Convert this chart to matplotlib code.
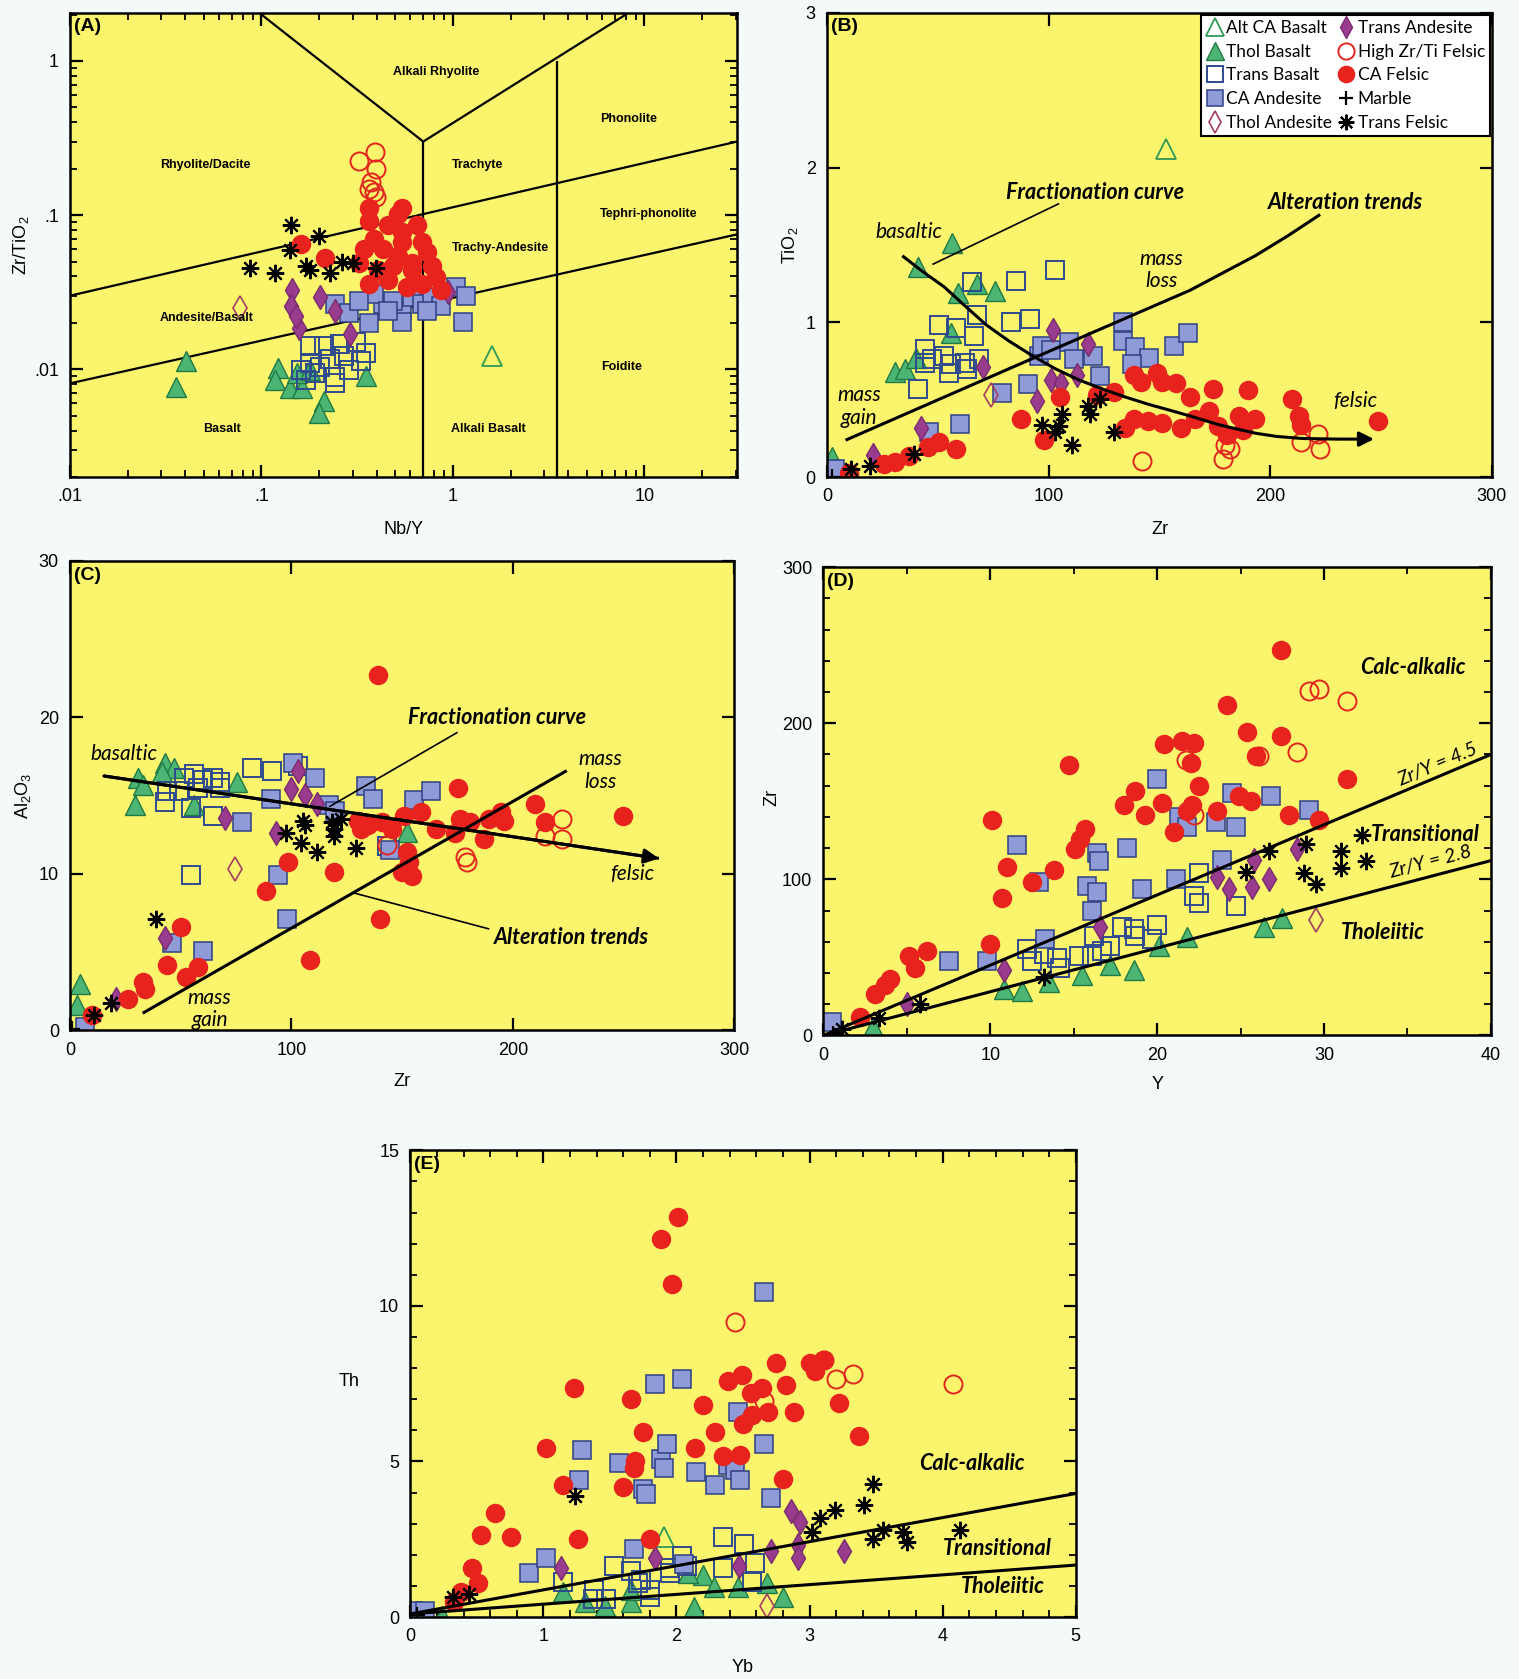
import math
import matplotlib.pyplot as plt
from matplotlib.lines import Line2D
from matplotlib.ticker import MultipleLocator, LogLocator, NullFormatter, FixedLocator

plt.rcParams['font.family'] = ['Liberation Sans', 'DejaVu Sans']
plt.rcParams['mathtext.fontset'] = 'custom'
plt.rcParams['mathtext.rm'] = 'Liberation Sans'
plt.rcParams['mathtext.default'] = 'rm'

YELLOW = '#fbf46d'
BG = '#f4fafa'
ANNOT_FONT = ['Lato', 'Open Sans', 'DejaVu Sans']

# ---------------- panel A : Zr/TiO2 vs Nb/Y (log-log) ----------------
A_ALT_CA_BASALT = [(1.60, 0.0122)]
A_THOL_BASALT = [(0.0403, 0.0113), (0.0357, 0.0077), (0.122, 0.0102), (0.118, 0.0085), (0.141, 0.0076),
                 (0.162, 0.0076), (0.212, 0.0062), (0.199, 0.0052), (0.350, 0.0090), (0.153, 0.0094),
                 (0.180, 0.0099)]
A_TRANS_BASALT = [(0.180, 0.0142), (0.212, 0.0142), (0.256, 0.0146), (0.313, 0.0150), (0.352, 0.0128),
                  (0.332, 0.0113), (0.271, 0.0122), (0.227, 0.0116), (0.180, 0.0110), (0.160, 0.0099),
                  (0.191, 0.0094), (0.241, 0.0089), (0.287, 0.0099), (0.170, 0.0085), (0.241, 0.0081),
                  (0.202, 0.0104)]
A_CA_ANDESITE = [(0.241, 0.0264), (0.287, 0.0232), (0.363, 0.0199), (0.432, 0.0264), (0.545, 0.0238),
                 (0.545, 0.0204), (0.613, 0.0293), (0.689, 0.0264), (0.774, 0.0293), (0.869, 0.0257),
                 (1.036, 0.0342), (1.164, 0.0300), (1.130, 0.0204), (0.385, 0.0308), (0.485, 0.0278),
                 (0.323, 0.0278), (0.46, 0.0238), (0.73, 0.0238)]
A_THOL_ANDESITE = [(0.0775, 0.0251)]
A_TRANS_ANDESITE = [(0.144, 0.0325), (0.143, 0.0257), (0.158, 0.0184), (0.202, 0.0293), (0.241, 0.0238),
                    (0.291, 0.0170), (0.948, 0.0316), (0.151, 0.0220)]
A_HIGH_ZR_TI = [(0.323, 0.225), (0.391, 0.256), (0.396, 0.198), (0.373, 0.165), (0.385, 0.141),
                (0.396, 0.131), (0.363, 0.147)]
A_CA_FELSIC = [(0.363, 0.112), (0.545, 0.112), (0.363, 0.091), (0.458, 0.0865), (0.385, 0.0704),
               (0.545, 0.078), (0.650, 0.0865), (0.342, 0.0603), (0.432, 0.0603), (0.545, 0.0668),
               (0.689, 0.0668), (0.323, 0.049), (0.408, 0.0442), (0.485, 0.0466), (0.613, 0.049),
               (0.774, 0.0466), (0.820, 0.0399), (0.689, 0.036), (0.578, 0.0342), (0.363, 0.036),
               (0.458, 0.0379), (0.869, 0.0325), (0.613, 0.0442), (0.160, 0.0651), (0.215, 0.053),
               (0.514, 0.0544), (0.730, 0.0573), (0.514, 0.101)]
A_TRANS_FELSIC = [(0.143, 0.0857), (0.200, 0.073), (0.141, 0.0597), (0.0869, 0.0454), (0.118, 0.0424),
                  (0.170, 0.0466), (0.180, 0.0442), (0.227, 0.042), (0.263, 0.0495), (0.301, 0.0486),
                  (0.398, 0.0454)]

A_LINE_UPPER = [(0.01, 0.030), (30.5, 0.30)]
A_LINE_LOWER = [(0.01, 0.0081), (30.5, 0.075)]
A_LINE_V = [(0.1, 2.0), (0.70, 0.30), (8.0, 2.0)]
A_LINE_VERT1 = [(0.70, 0.30), (0.70, 0.002)]
A_LINE_VERT2 = [(3.5, 1.0), (3.5, 0.002)]
A_FIELDS = ['Alkali Rhyolite', 'Phonolite', 'Rhyolite/Dacite', 'Trachyte', 'Tephri-phonolite',
            'Trachy-Andesite', 'Andesite/Basalt', 'Foidite', 'Basalt', 'Alkali Basalt']
A_FIELD_X = [0.82, 8.3, 0.051, 1.35, 10.5, 1.77, 0.052, 7.65, 0.062, 1.54]
A_FIELD_Y = [0.85, 0.42, 0.21, 0.21, 0.102, 0.0615, 0.0215, 0.0103, 0.0041, 0.0041]

# ---------------- panel B : TiO2 vs Zr ----------------
B_ALT_CA_BASALT = [(153, 2.12)]
B_THOL_BASALT = [(56.6, 1.51), (41.3, 1.36), (59.1, 1.19), (67.5, 1.25), (75.8, 1.20), (30.8, 0.68),
                 (35, 0.70), (40.2, 0.77), (56, 0.93), (2.5, 0.13)]
B_TRANS_BASALT = [(103, 1.34), (85.3, 1.27), (65.4, 1.26), (67.5, 1.05), (91.6, 1.02), (83.2, 1.0),
                  (50.7, 0.98), (58, 0.96), (66.5, 0.91), (44.4, 0.83), (52.8, 0.78), (47.6, 0.76),
                  (56, 0.73), (62.3, 0.74), (68.6, 0.76), (41.3, 0.57), (54.9, 0.67), (63.3, 0.70),
                  (44.4, 0.74)]
B_CA_ANDESITE = [(90.6, 0.60), (79, 0.54), (60.2, 0.34), (95.8, 0.78), (96.9, 0.85), (101, 0.82),
                 (109.4, 0.87), (120, 0.78), (123.4, 0.65), (133.5, 1.0), (133.5, 0.88), (139, 0.84),
                 (145.4, 0.77), (137.6, 0.73), (156.5, 0.85), (162.8, 0.93), (3.6, 0.05), (46, 0.29),
                 (111.5, 0.76)]
B_THOL_ANDESITE = [(74.2, 0.53)]
B_TRANS_ANDESITE = [(102, 0.95), (117.8, 0.86), (70.6, 0.71), (101, 0.63), (112.6, 0.66), (105.8, 0.61),
                    (94.7, 0.49), (42.3, 0.32), (21, 0.14)]
B_HIGH_ZR_TI = [(142.3, 0.105), (178.5, 0.116), (181.7, 0.18), (179.6, 0.205), (214, 0.227),
                (221.5, 0.28), (222.6, 0.18)]
B_CA_FELSIC = [(9.8, 0.027), (25.6, 0.082), (30.8, 0.094), (37.1, 0.138), (45.5, 0.194), (50.7, 0.227),
               (58, 0.183), (87.4, 0.372), (97.8, 0.238), (105.2, 0.517), (122, 0.528), (129.3, 0.55),
               (138.6, 0.661), (141.7, 0.617), (149, 0.673), (151, 0.617), (157.5, 0.606), (163.8, 0.517),
               (174.3, 0.572), (190, 0.561), (210, 0.506), (138.6, 0.372), (145, 0.361), (151, 0.35),
               (159.6, 0.316), (165.9, 0.372), (176.5, 0.327), (185.8, 0.394), (193.3, 0.372),
               (214, 0.339), (248.7, 0.361), (172.2, 0.428), (180.6, 0.272), (187.9, 0.305),
               (213, 0.394), (134.5, 0.316)]
B_MARBLE = [(2.5, 0.0)]
B_TRANS_FELSIC = [(10.9, 0.049), (19.3, 0.071), (39.2, 0.149), (96.8, 0.339), (106.2, 0.405),
                  (103, 0.294), (110.4, 0.205), (117.8, 0.461), (118.8, 0.405), (123, 0.506),
                  (129.3, 0.294), (104.6, 0.327)]

B_FRAC_CURVE = [(34, 1.43), (43, 1.33), (52.8, 1.23), (62, 1.11), (71.7, 0.985), (82, 0.88), (92.7, 0.784),
                (103, 0.70), (113.6, 0.628), (124, 0.57), (134.6, 0.517), (145, 0.47), (155.6, 0.428),
                (166, 0.385), (176.5, 0.339), (185, 0.31), (193.3, 0.283), (203, 0.262), (214.3, 0.249),
                (230, 0.245), (246.8, 0.245)]
B_ALT_TREND = [(8.4, 0.238), (88.4, 0.739), (163.8, 1.207), (180, 1.33), (193.2, 1.43), (208, 1.56),
               (222.5, 1.697)]
B_FRAC_LEADER = [(47.6, 1.374), (104.8, 1.768)]

# ---------------- panel C : Al2O3 vs Zr ----------------
C_THOL_BASALT = [(4.4, 2.97), (3.3, 1.65), (30.6, 16.15), (32.8, 15.7), (29.5, 14.4), (42.7, 17.1),
                 (47, 16.8), (55.8, 14.4), (75.5, 15.9), (41.6, 16.5), (152, 12.7)]
C_TRANS_BASALT = [(43.8, 15.3), (51.4, 16.15), (55.8, 16.4), (60.2, 16.0), (64.6, 16.15), (67.8, 15.5),
                  (42.7, 14.6), (54.7, 14.2), (64.6, 13.7), (82, 16.8), (91, 16.6), (103, 16.9),
                  (67.8, 15.9), (54.7, 9.9), (143.3, 11.76), (49.2, 15.3), (58, 15.5)]
C_CA_ANDESITE = [(90.8, 14.8), (100.7, 17.1), (110.5, 16.15), (117, 14.4), (119.5, 14.0), (133.5, 15.6),
                 (136.8, 14.8), (155.4, 14.7), (163, 15.3), (77.7, 13.3), (94, 9.9), (97.8, 7.14),
                 (144.4, 11.5), (46, 5.6), (60.2, 5.05), (6.6, 0.22)]
C_THOL_ANDESITE = [(74.4, 10.33)]
C_TRANS_ANDESITE = [(70, 13.6), (93, 12.6), (103, 16.6), (99.6, 15.4), (106, 15.05), (111.6, 14.5),
                    (42.7, 5.93), (20.8, 1.98)]
C_HIGH_ZR_TI = [(222, 13.5), (222, 12.2), (214.4, 12.4), (178.3, 11.1), (179.4, 10.77), (143.3, 11.87)]
C_CA_FELSIC = [(139, 22.7), (175, 15.5), (98.5, 10.77), (119.3, 10.1), (88.6, 8.9), (140, 7.14),
               (108.3, 4.5), (50.3, 6.6), (43.8, 4.18), (52.5, 3.4), (58, 4.07), (32.8, 3.08),
               (33.9, 2.64), (26.3, 1.98), (9.8, 0.99), (130, 13.4), (131.3, 12.86), (141, 13.3),
               (145.5, 12.86), (151, 13.7), (158.6, 13.96), (165.2, 12.86), (153, 10.77), (152, 11.43),
               (154.2, 9.89), (150, 10.1), (174, 12.64), (180.5, 13.3), (187, 12.2), (189.3, 13.5),
               (194.7, 13.96), (195.8, 13.4), (210, 14.5), (214.4, 13.3), (249.5, 13.7), (134.6, 13.1),
               (176.2, 13.5)]
C_MARBLE = [(1.1, 0.1)]
C_TRANS_FELSIC = [(38.7, 7.14), (18.6, 1.76), (10.9, 0.99), (97.4, 12.64), (105, 13.4), (106, 13.1),
                  (104.4, 12.0), (111.6, 11.43), (118.2, 13.3), (119.3, 12.86), (122.5, 13.5),
                  (129, 11.65), (119.3, 12.4)]

C_FRAC_ARROW = [(15.3, 16.26), (265.9, 10.99)]
C_ALT_TREND = [(32.8, 1.1), (224.3, 16.6)]
C_FRAC_LEADER = [(117, 14.29), (175, 19.05)]
C_ALT_LEADER = [(128, 8.79), (189.3, 6.48)]

# ---------------- panel D : Zr vs Y ----------------
D_THOL_BASALT = [(2.95, 5.5), (10.8, 29.8), (11.9, 28.7), (13.5, 34.2), (15.5, 38.6), (17.2, 45.3),
                 (18.6, 41.9), (20.1, 57.4), (21.8, 62.9), (26.4, 69.5), (27.5, 75.1)]
D_TRANS_BASALT = [(12.2, 55.2), (12.5, 47.5), (13.2, 51.9), (14, 49.7), (14.2, 43), (15.3, 50.8),
                  (16.1, 50.8), (16.2, 64), (17.2, 57.4), (17.9, 69.5), (18.7, 64), (18.6, 68.4),
                  (20, 70.6), (19.7, 61.8), (22.2, 89.4), (22.5, 85), (22.5, 103.8), (24.7, 82.8),
                  (16.7, 54.1)]
D_CA_ANDESITE = [(0.5, 8.8), (7.5, 47.5), (9.8, 47.5), (11.6, 121.9), (12.9, 98.2), (13.3, 61.8),
                 (15.8, 96), (16.4, 91.6), (16.1, 79.5), (16.4, 117), (16.5, 111.5), (18.2, 120.3),
                 (19.1, 93.8), (20, 164.5), (21.3, 140.2), (21.8, 133.6), (21.1, 100.4), (23.5, 136.9),
                 (23.9, 112.6), (24.5, 155.6), (24.7, 133.6), (26.8, 153.4), (29.1, 144.6)]
D_THOL_ANDESITE = [(29.5, 74)]
D_TRANS_ANDESITE = [(5, 19.9), (10.8, 41.9), (16.6, 69.5), (23.6, 101.5), (24.3, 93.8), (25.7, 94.9),
                    (25.8, 112.6), (26.7, 100.4), (28.4, 119.2)]
D_HIGH_ZR_TI = [(29.1, 220.8), (29.7, 221.9), (31.4, 214.1), (28.4, 181.5), (26.1, 178.8),
                (21.7, 176.6), (22.2, 141.3)]
D_CA_FELSIC = [(2.2, 12.1), (3.1, 26.5), (3.7, 32), (4, 36.4), (5.1, 50.8), (5.5, 43), (6.2, 54.1),
               (10, 58.5), (10.7, 88.3), (11, 108.2), (10.1, 138), (12.5, 98.2), (13.8, 106),
               (14.7, 173.3), (15.1, 119.2), (15.4, 125.8), (15.7, 132.5), (18, 147.9), (18.7, 156.7),
               (19.3, 141.3), (20.3, 149), (20.4, 186.5), (21, 130.3), (21.5, 188.7), (22.2, 187.6),
               (22, 174.4), (22.5, 160), (21.8, 143.5), (22.1, 147.9), (23.6, 143.5), (24.2, 211.9),
               (24.9, 153.4), (25.4, 194.3), (25.6, 150.1), (25.9, 178.8), (27.4, 192), (27.4, 247.2),
               (27.9, 141.3), (29.7, 138), (31.4, 164.5)]
D_MARBLE = [(0.6, 1.0)]
D_TRANS_FELSIC = [(1.1, 4.4), (3.3, 11), (5.8, 19.9), (13.2, 37.5), (25.3, 104.9), (26.7, 118.1),
                  (28.9, 122.5), (28.8, 103.8), (29.5, 97.1), (31, 118.1), (31, 107.1), (32.5, 111.5),
                  (32.3, 128.5)]
D_RATIOS = [4.5, 2.8]

# ---------------- panel E : Th vs Yb ----------------
E_ALT_CA_BASALT = [(1.91, 2.57)]
E_THOL_BASALT = [(0.24, 0.03), (1.15, 0.81), (1.31, 0.47), (1.46, 0.36), (1.66, 0.47), (1.66, 0.86),
                 (2.13, 0.31), (2.2, 1.36), (2.28, 0.97), (2.46, 0.97), (2.68, 1.08), (2.8, 0.64),
                 (2.09, 1.41)]
E_TRANS_BASALT = [(1.15, 1.14), (1.38, 0.86), (1.47, 0.58), (1.53, 1.63), (1.66, 1.47), (1.71, 1.08),
                  (1.8, 0.86), (1.8, 0.64), (1.95, 1.41), (2.04, 1.96), (2.08, 1.63), (1.95, 1.58),
                  (2.35, 2.57), (2.51, 2.35), (2.35, 1.58), (2.59, 1.74), (2.57, 1.14), (1.73, 1.19),
                  (1.37, 0.58)]
E_CA_ANDESITE = [(0.02, 0.2), (0.11, 0.18), (0.89, 1.43), (1.02, 1.91), (1.29, 5.38), (1.27, 4.39),
                 (1.75, 4.12), (1.77, 3.95), (1.68, 2.19), (1.57, 4.94), (1.84, 7.48), (1.88, 5.09),
                 (1.93, 5.55), (1.91, 4.78), (2.04, 7.65), (2.06, 1.69), (2.15, 4.67), (2.29, 4.23),
                 (2.39, 4.89), (2.44, 4.72), (2.48, 4.39), (2.46, 6.6), (2.66, 10.46), (2.66, 5.55),
                 (2.71, 3.84)]
E_THOL_ANDESITE = [(2.68, 0.36)]
E_TRANS_ANDESITE = [(1.13, 1.58), (1.84, 1.91), (2.47, 1.63), (2.71, 2.13), (2.86, 3.4), (2.93, 3.07),
                    (2.91, 2.3), (2.91, 1.91), (3.26, 2.13)]
E_HIGH_ZR_TI = [(2.44, 9.49), (3.2, 7.65), (3.33, 7.81), (4.08, 7.48), (2.66, 6.93), (3.11, 8.26)]
E_CA_FELSIC = [(0.33, 0.47), (0.38, 0.81), (0.51, 1.08), (0.46, 1.58), (0.53, 2.63), (0.64, 3.34),
               (0.76, 2.57), (1.02, 5.42), (1.15, 4.23), (1.23, 7.37), (1.26, 2.52), (1.6, 4.17),
               (1.66, 7.02), (1.68, 4.78), (1.69, 5.0), (1.75, 5.94), (1.8, 2.52), (1.88, 12.14),
               (1.97, 10.71), (2.01, 12.87), (2.14, 5.44), (2.2, 6.82), (2.29, 5.94), (2.35, 5.17),
               (2.39, 7.59), (2.48, 5.22), (2.49, 7.79), (2.5, 6.21), (2.56, 7.21), (2.57, 6.49),
               (2.64, 7.37), (2.69, 6.6), (2.75, 8.15), (2.8, 4.45), (2.82, 7.46), (2.88, 6.6),
               (3.0, 8.15), (3.04, 7.92), (3.1, 8.26), (3.22, 6.88), (3.37, 5.81)]
E_MARBLE = [(0.05, 0.05)]
E_TRANS_FELSIC = [(0.32, 0.66), (0.44, 0.75), (1.24, 3.9), (3.02, 2.74), (3.08, 3.18), (3.19, 3.45),
                  (3.41, 3.6), (3.48, 4.28), (3.48, 2.52), (3.55, 2.79), (3.7, 2.74), (3.73, 2.41),
                  (4.13, 2.79)]
E_LINE_UPPER = [(0, 0.1), (5, 3.97)]
E_LINE_LOWER = [(0, 0.1), (5, 1.67)]

# ---------------- styles ----------------
STYLE = {
    'Alt CA Basalt': dict(marker='^', mfc='none', mec='#2e9a55', ms=14, mew=1.3),
    'Thol Basalt': dict(marker='^', mfc='#4db574', mec='#1f7a45', ms=14, mew=1.0),
    'Trans Basalt': dict(marker='s', mfc='none', mec='#2f4b8f', ms=12.5, mew=1.4),
    'CA Andesite': dict(marker='s', mfc='#8e9bd6', mec='#2e3f86', ms=12.5, mew=1.1),
    'Thol Andesite': dict(marker='d', mfc='none', mec='#a53e62', ms=12, mew=1.2),
    'Trans Andesite': dict(marker='d', mfc='#9a3c8d', mec='#7a2b70', ms=12, mew=1.0),
    'High Zr/Ti Felsic': dict(marker='o', mfc='none', mec='#e2251f', ms=13, mew=1.4),
    'CA Felsic': dict(marker='o', mfc='#e8231e', mec='#e8231e', ms=13, mew=1.0),
    'Marble': dict(marker='+', color='k', ms=11, mew=1.6),
    'Trans Felsic': dict(marker=(8, 2, 0), color='k', ms=12.5, mew=1.5),
}
LEGEND_ORDER = ['Alt CA Basalt', 'Thol Basalt', 'Trans Basalt', 'CA Andesite', 'Thol Andesite',
                'Trans Andesite', 'High Zr/Ti Felsic', 'CA Felsic', 'Marble', 'Trans Felsic']

BIG = 15.5    # bold italic captions
SMALL = 15    # italic captions


def draw_points(ax, groups):
    for name, pts in groups:
        xs = [p[0] for p in pts]
        ys = [p[1] for p in pts]
        ax.plot(xs, ys, ls='none', **STYLE[name])


def draw_line(ax, pts, lw=2.2):
    ax.plot([p[0] for p in pts], [p[1] for p in pts], color='k', lw=lw, solid_capstyle='butt')


def arrow_end(ax, pts, lw=2.2):
    ax.annotate('', xy=pts[-1], xytext=pts[-2],
                arrowprops=dict(arrowstyle='-|>', color='k', lw=lw, mutation_scale=22,
                                shrinkA=0, shrinkB=0))


def style_axes(ax, label):
    ax.set_facecolor(YELLOW)
    for s in ax.spines.values():
        s.set_linewidth(1.8)
    ax.tick_params(which='both', direction='in', top=True, right=True, labelsize=13, pad=8)
    ax.tick_params(which='major', length=9, width=1.6)
    ax.tick_params(which='minor', length=5, width=1.3)
    ax.text(0.006, 0.988, label, transform=ax.transAxes, ha='left', va='top',
            fontsize=14, fontweight='bold')


def screen_angle(ax, slope, x0):
    p0 = ax.transData.transform((x0, slope * x0))
    p1 = ax.transData.transform((x0 + 1, slope * (x0 + 1)))
    return math.degrees(math.atan2(p1[1] - p0[1], p1[0] - p0[0]))


def annot(ax, x, y, s, size=SMALL, bold=False, ha='center', rotation=0):
    ax.text(x, y, s, fontsize=size, family=ANNOT_FONT, style='italic',
            fontweight='bold' if bold else 'normal', ha=ha, va='center',
            rotation=rotation, rotation_mode='anchor', linespacing=1.15)


fig = plt.figure(figsize=(15.19, 16.79), dpi=100, facecolor=BG)

# ---- A ----
axA = fig.add_axes([0.0461, 0.7159, 0.4391, 0.2764])
style_axes(axA, '(A)')
axA.set_xscale('log')
axA.set_yscale('log')
axA.set_xlim(0.01, 30.5)
axA.set_ylim(0.002, 2.05)
for pts in (A_LINE_UPPER, A_LINE_LOWER, A_LINE_V, A_LINE_VERT1, A_LINE_VERT2):
    draw_line(axA, pts, lw=1.6)
for s, x, y in zip(A_FIELDS, A_FIELD_X, A_FIELD_Y):
    axA.text(x, y, s, fontsize=9, fontweight='bold', ha='center', va='center',
             family=['Liberation Sans Narrow', 'Liberation Sans'])
draw_points(axA, [('Thol Basalt', A_THOL_BASALT), ('Alt CA Basalt', A_ALT_CA_BASALT),
                  ('Trans Basalt', A_TRANS_BASALT), ('CA Andesite', A_CA_ANDESITE),
                  ('Thol Andesite', A_THOL_ANDESITE), ('Trans Andesite', A_TRANS_ANDESITE),
                  ('High Zr/Ti Felsic', A_HIGH_ZR_TI), ('CA Felsic', A_CA_FELSIC),
                  ('Trans Felsic', A_TRANS_FELSIC)])
axA.xaxis.set_major_locator(FixedLocator([0.01, 0.1, 1, 10]))
axA.set_xticklabels(['.01', '.1', '1', '10'])
axA.yaxis.set_major_locator(FixedLocator([0.01, 0.1, 1]))
axA.set_yticklabels(['.01', '.1', '1'])
axA.xaxis.set_minor_locator(LogLocator(subs=range(2, 10)))
axA.yaxis.set_minor_locator(LogLocator(subs=range(2, 10)))
axA.xaxis.set_minor_formatter(NullFormatter())
axA.yaxis.set_minor_formatter(NullFormatter())
axA.set_xlabel('Nb/Y', fontsize=13)
axA.set_ylabel('Zr/TiO$_2$', fontsize=13)
axA.xaxis.set_label_coords(0.5, -0.094)
axA.yaxis.set_label_coords(-0.058, 0.5)

# ---- B ----
axB = fig.add_axes([0.5444, 0.7159, 0.4378, 0.2764])
style_axes(axB, '(B)')
axB.set_xlim(0, 300)
axB.set_ylim(0, 3)
axB.xaxis.set_major_locator(MultipleLocator(100))
axB.yaxis.set_major_locator(MultipleLocator(1))
draw_points(axB, [('Thol Basalt', B_THOL_BASALT), ('Alt CA Basalt', B_ALT_CA_BASALT),
                  ('Trans Basalt', B_TRANS_BASALT), ('CA Andesite', B_CA_ANDESITE),
                  ('Thol Andesite', B_THOL_ANDESITE), ('Trans Andesite', B_TRANS_ANDESITE),
                  ('High Zr/Ti Felsic', B_HIGH_ZR_TI), ('CA Felsic', B_CA_FELSIC),
                  ('Marble', B_MARBLE), ('Trans Felsic', B_TRANS_FELSIC)])
draw_line(axB, B_FRAC_CURVE[:-1])
arrow_end(axB, B_FRAC_CURVE)
draw_line(axB, B_ALT_TREND)
draw_line(axB, B_FRAC_LEADER, lw=1.2)
annot(axB, 120.9, 1.842, 'Fractionation curve', size=BIG, bold=True)
annot(axB, 234, 1.775, 'Alteration trends', size=BIG, bold=True)
annot(axB, 37.1, 1.586, 'basaltic')
annot(axB, 151, 1.34, 'mass\nloss')
annot(axB, 14.5, 0.455, 'mass\ngain')
annot(axB, 238.2, 0.494, 'felsic')
axB.set_xlabel('Zr', fontsize=13)
axB.set_ylabel('TiO$_2$', fontsize=13)
axB.xaxis.set_label_coords(0.5, -0.094)
axB.yaxis.set_label_coords(-0.041, 0.5)
handles = [Line2D([], [], ls='none', **STYLE[n]) for n in LEGEND_ORDER]
leg = axB.legend(handles, LEGEND_ORDER, ncol=2, loc='upper right',
                 prop={'family': ANNOT_FONT, 'size': 12.5}, frameon=True, fancybox=False,
                 edgecolor='k', framealpha=1, borderpad=0.3, labelspacing=0.45,
                 handletextpad=0.15, columnspacing=0.3, handlelength=1.0,
                 borderaxespad=0.1, markerscale=0.9)
leg.get_frame().set_linewidth(1.5)

# ---- C ----
axC = fig.add_axes([0.0461, 0.3863, 0.4374, 0.2796])
style_axes(axC, '(C)')
axC.set_xlim(0, 300)
axC.set_ylim(0, 30)
axC.xaxis.set_major_locator(MultipleLocator(100))
axC.yaxis.set_major_locator(MultipleLocator(10))
draw_points(axC, [('Thol Basalt', C_THOL_BASALT), ('Trans Basalt', C_TRANS_BASALT),
                  ('CA Andesite', C_CA_ANDESITE), ('Thol Andesite', C_THOL_ANDESITE),
                  ('Trans Andesite', C_TRANS_ANDESITE), ('High Zr/Ti Felsic', C_HIGH_ZR_TI),
                  ('CA Felsic', C_CA_FELSIC), ('Marble', C_MARBLE),
                  ('Trans Felsic', C_TRANS_FELSIC)])
draw_line(axC, C_FRAC_ARROW)
arrow_end(axC, C_FRAC_ARROW)
draw_line(axC, C_ALT_TREND)
draw_line(axC, C_FRAC_LEADER, lw=1.2)
draw_line(axC, C_ALT_LEADER, lw=1.2)
annot(axC, 192.6, 20.0, 'Fractionation curve', size=BIG, bold=True)
annot(axC, 226.5, 5.93, 'Alteration trends', size=BIG, bold=True)
annot(axC, 24.5, 17.65, 'basaltic')
annot(axC, 239.6, 16.6, 'mass\nloss')
annot(axC, 63, 1.38, 'mass\ngain')
annot(axC, 253.8, 10.0, 'felsic')
axC.set_xlabel('Zr', fontsize=13)
axC.set_ylabel('Al$_2$O$_3$', fontsize=13)
axC.xaxis.set_label_coords(0.5, -0.091)
axC.yaxis.set_label_coords(-0.055, 0.5)

# ---- D ----
axD = fig.add_axes([0.5421, 0.3833, 0.4394, 0.2789])
style_axes(axD, '(D)')
axD.set_xlim(0, 40)
axD.set_ylim(0, 300)
axD.xaxis.set_major_locator(MultipleLocator(10))
axD.xaxis.set_minor_locator(MultipleLocator(5))
axD.yaxis.set_major_locator(MultipleLocator(100))
axD.yaxis.set_minor_locator(MultipleLocator(20))
draw_points(axD, [('Thol Basalt', D_THOL_BASALT), ('Trans Basalt', D_TRANS_BASALT),
                  ('CA Andesite', D_CA_ANDESITE), ('Thol Andesite', D_THOL_ANDESITE),
                  ('Trans Andesite', D_TRANS_ANDESITE), ('High Zr/Ti Felsic', D_HIGH_ZR_TI),
                  ('CA Felsic', D_CA_FELSIC), ('Marble', D_MARBLE),
                  ('Trans Felsic', D_TRANS_FELSIC)])
for r in D_RATIOS:
    axD.plot([0, 40], [0, 40 * r], color='k', lw=2.2)
annot(axD, 36.8, 4.5 * 36.8 + 8, 'Zr/Y = 4.5', size=14, rotation=screen_angle(axD, 4.5, 36))
annot(axD, 36.4, 2.8 * 36.4 + 9, 'Zr/Y = 2.8', size=14, rotation=screen_angle(axD, 2.8, 36))
annot(axD, 35.3, 236, 'Calc-alkalic', size=BIG, bold=True)
annot(axD, 32.8, 129, 'Transitional', size=BIG, bold=True, ha='left')
annot(axD, 33.5, 66, 'Tholeiitic', size=BIG, bold=True)
axD.set_xlabel('Y', fontsize=13)
axD.set_ylabel('Zr', fontsize=13)
axD.xaxis.set_label_coords(0.5, -0.087)
axD.yaxis.set_label_coords(-0.064, 0.508)

# ---- E ----
axE = fig.add_axes([0.2701, 0.0369, 0.4381, 0.2780])
style_axes(axE, '(E)')
axE.set_xlim(0, 5)
axE.set_ylim(0, 15)
axE.xaxis.set_major_locator(MultipleLocator(1))
axE.xaxis.set_minor_locator(MultipleLocator(0.2))
axE.yaxis.set_major_locator(MultipleLocator(5))
axE.yaxis.set_minor_locator(MultipleLocator(1))
draw_points(axE, [('Thol Basalt', E_THOL_BASALT), ('Alt CA Basalt', E_ALT_CA_BASALT),
                  ('Trans Basalt', E_TRANS_BASALT), ('CA Andesite', E_CA_ANDESITE),
                  ('Thol Andesite', E_THOL_ANDESITE), ('Trans Andesite', E_TRANS_ANDESITE),
                  ('High Zr/Ti Felsic', E_HIGH_ZR_TI), ('CA Felsic', E_CA_FELSIC),
                  ('Marble', E_MARBLE), ('Trans Felsic', E_TRANS_FELSIC)])
draw_line(axE, E_LINE_UPPER)
draw_line(axE, E_LINE_LOWER)
annot(axE, 4.22, 4.94, 'Calc-alkalic', size=BIG, bold=True)
annot(axE, 4.41, 2.19, 'Transitional', size=BIG, bold=True)
annot(axE, 4.45, 0.97, 'Tholeiitic', size=BIG, bold=True)
axE.set_xlabel('Yb', fontsize=13)
axE.set_ylabel('Th', fontsize=13, rotation=0, ha='center', va='center')
axE.xaxis.set_label_coords(0.5, -0.09)
axE.yaxis.set_label_coords(-0.092, 0.505)

fig.savefig('out.png', dpi=100, facecolor=BG)
